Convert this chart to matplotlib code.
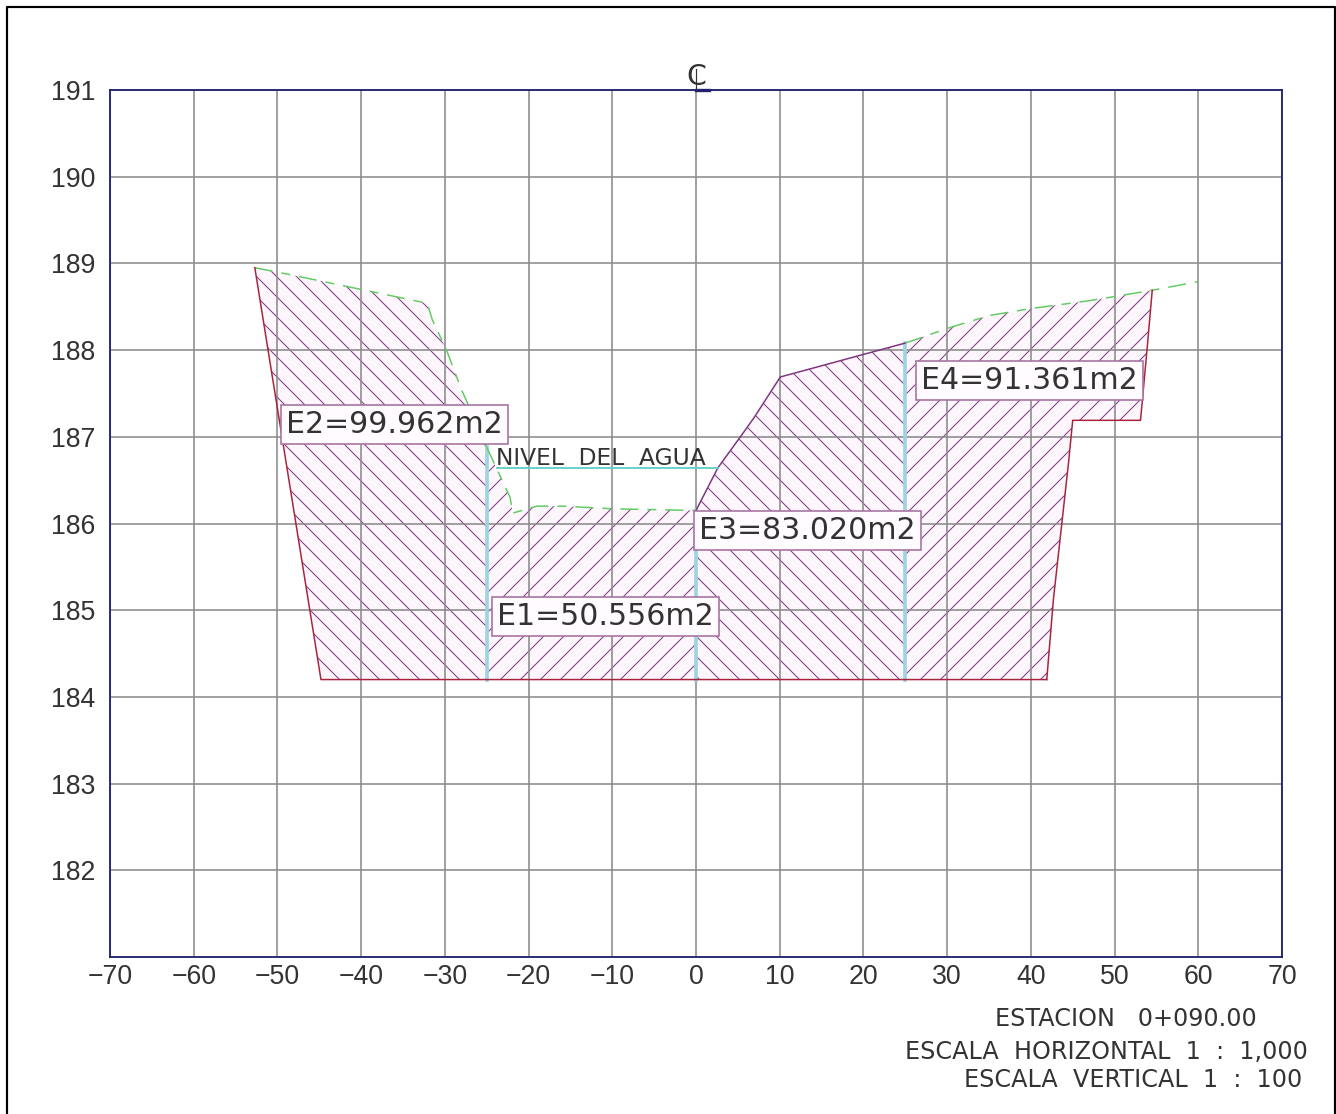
import numpy as np
import matplotlib
matplotlib.use('Agg')
import matplotlib.pyplot as plt
from matplotlib.patches import Polygon
from matplotlib.lines import Line2D

plt.rcParams['font.family'] = ['DejaVu Sans']
plt.rcParams['hatch.linewidth'] = 0.6

# Section data
x_ticks = [-70, -60, -50, -40, -30, -20, -10, 0, 10, 20, 30, 40, 50, 60, 70]
y_ticks = [182, 183, 184, 185, 186, 187, 188, 189, 190, 191]

ground_left_x = [-52.7, -49, -40, -32.1, -31.5, -29.8, -28, -27.2, -25]
ground_left_y = [188.95, 188.88, 188.7, 188.54, 188.35, 188.0, 187.54, 187.37, 186.88]
ground_mid_x = [-25, -22.2, -21.9, -19, -15.9, -10, 0]
ground_mid_y = [186.88, 186.3, 186.12, 186.2, 186.2, 186.17, 186.15]
bank_x = [0, 2.6, 5.75, 7, 10.07, 24.95]
bank_y = [186.15, 186.64, 187.06, 187.23, 187.69, 188.08]
ground_right_x = [24.95, 26.5, 30, 35.1, 40.07, 47, 54.5, 60]
ground_right_y = [188.08, 188.13, 188.25, 188.4, 188.48, 188.57, 188.69, 188.79]
cut_right_x = [54.5, 53.9, 53.1, 45, 44.5, 43.7, 42.7, 41.9]
cut_right_y = [188.69, 188.03, 187.19, 187.19, 186.7, 186.0, 185.13, 184.2]
bottom_y = 184.2
bottom_left_x = -44.8

water_x = [-23.8, 2.6]
water_y = [186.64, 186.64]
station_x = [-25, 0, 25]
station_top = [186.88, 186.15, 188.08]

labels = ['E1=50.556m2', 'E2=99.962m2', 'E3=83.020m2', 'E4=91.361m2']
label_x = [-10.8, -36.0, 13.3, 39.8]
label_y = [184.93, 187.14, 185.92, 187.65]

W, H = 1336, 1114
fig = plt.figure(figsize=(W / 120, H / 120), dpi=120, facecolor='white')
ax = fig.add_axes([110 / W, 1 - 957 / H, (1282 - 110) / W, (957 - 90) / H])
ax.set_xlim(-70, 70)
ax.set_ylim(181, 191)

pink = '#fef6fd'
purple = '#7d3580'
red = '#a8243c'
green = '#62cc62'
cyan = '#9dd3e2'
cyan2 = '#5fd0c8'
ink = '#333333'

# Hatched pieces, one per station interval
e2 = list(zip(ground_left_x, ground_left_y)) + [(-25, bottom_y), (bottom_left_x, bottom_y)]
e1 = list(zip(ground_mid_x, ground_mid_y)) + [(0, bottom_y), (-25, bottom_y)]
e3 = list(zip(bank_x, bank_y)) + [(24.95, bottom_y), (0, bottom_y)]
e4 = list(zip(ground_right_x[:7], ground_right_y[:7])) + list(zip(cut_right_x, cut_right_y)) + [(24.95, bottom_y)]
for pts, h in [(e2, '\\\\'), (e1, '//'), (e3, '\\\\'), (e4, '//')]:
    ax.add_patch(Polygon(pts, closed=True, facecolor=pink, edgecolor=purple, hatch=h,
                         linewidth=0, zorder=1))

ax.grid(True, color='#8a8a8a', linewidth=0.95, zorder=2)
ax.set_axisbelow(False)
ax.set_xticks(x_ticks)
ax.set_yticks(y_ticks)
ax.xaxis.set_major_formatter(lambda v, p: f'{v:g}'.replace('-', '\u2212'))
ax.tick_params(length=0, colors=ink)
ax.tick_params(axis='x', pad=4)
ax.tick_params(axis='y', pad=9)
for lab in ax.get_xticklabels() + ax.get_yticklabels():
    lab.set_family('Liberation Sans')
    lab.set_fontsize(16)
for s in ax.spines.values():
    s.set_color('#20206e')
    s.set_linewidth(1.1)
    s.set_zorder(6)

# Outlines
dash = (0, (12, 6, 6, 6))
ax.plot(ground_left_x, ground_left_y, color=green, lw=0.9, ls=dash, zorder=4)
ax.plot(ground_mid_x, ground_mid_y, color=green, lw=0.9, ls=dash, zorder=4)
ax.plot(ground_right_x, ground_right_y, color=green, lw=0.9, ls=dash, zorder=4)
ax.plot(bank_x, bank_y, color=purple, lw=0.9, zorder=4)
ax.plot([ground_left_x[0], bottom_left_x, cut_right_x[-1]], [ground_left_y[0], bottom_y, bottom_y],
        color=red, lw=0.9, zorder=4)
ax.plot(cut_right_x, cut_right_y, color=red, lw=0.9, zorder=4)
ax.plot(water_x, water_y, color=cyan2, lw=1.1, zorder=4)
for sx, st in zip(station_x, station_top):
    ax.plot([sx, sx], [bottom_y, st], color=cyan, lw=2.2, zorder=3)

ax.text(-23.9, 186.67, 'NIVEL  DEL  AGUA', fontsize=14, color=ink, va='baseline', ha='left', zorder=5)
for t, tx, ty in zip(labels, label_x, label_y):
    ax.text(tx, ty, t, fontsize=18, color=ink, ha='center', va='center', zorder=5,
            bbox=dict(boxstyle='square,pad=0.17', facecolor='#fffbfe', edgecolor='#a875a2', linewidth=1.0))

# Centre line mark
ax.plot([0, 1.5], [191, 191], color='#20206e', lw=2, zorder=7, clip_on=False)
ax.plot([0, 0], [191, 191.24], color=ink, lw=0.7, zorder=7, clip_on=False)
ax.text(0, 191.06, 'C', fontsize=17, color=ink, ha='center', va='baseline', zorder=7)

# Title block
fig.text(1257 / W, 1 - 1019 / H, 'ESTACION   0+090.00', fontsize=14.3, color=ink, ha='right', va='center')
fig.text(1308 / W, 1 - 1052 / H, 'ESCALA  HORIZONTAL  1  :  1,000', fontsize=14.3, color=ink, ha='right', va='center')
fig.text(1302 / W, 1 - 1080 / H, 'ESCALA  VERTICAL  1  :  100', fontsize=14.3, color=ink, ha='right', va='center')

# Sheet frame, open at the bottom
fig.add_artist(Line2D([7 / W, 7 / W, 1334.5 / W, 1334.5 / W], [0, 1 - 6.5 / H, 1 - 6.5 / H, 0],
                      transform=fig.transFigure, color='black', lw=1.3))

fig.savefig('out.png', dpi=120)
